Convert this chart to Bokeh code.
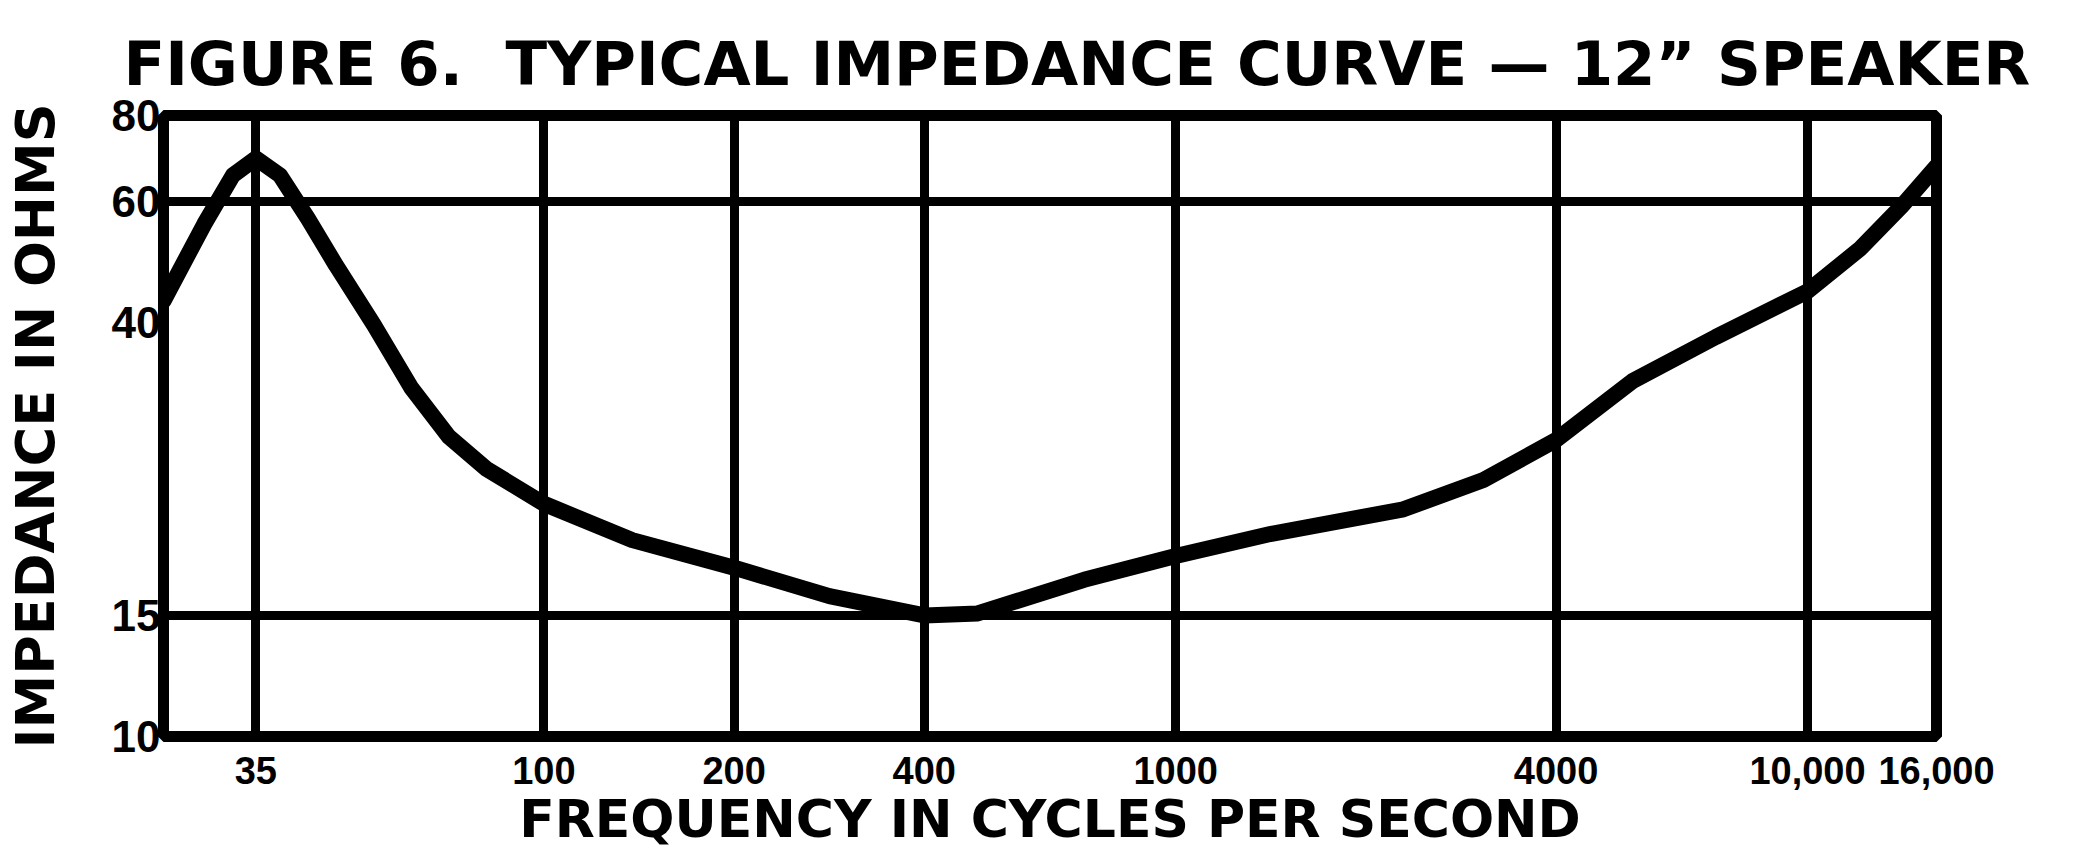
from bokeh.plotting import figure
from bokeh.models import FixedTicker, Range1d
from bokeh.embed import file_html
from bokeh.resources import INLINE

# ---- data ----
freq_hz = [25, 29, 32.2, 35, 38.2, 42.3, 46.9, 53.8, 61.6, 70.7, 81.1, 100,
           138, 200, 283, 400, 486, 716, 1000, 1411, 2293, 3069, 4000,
           5291, 7159, 10000, 12137, 14079, 16000]
impedance_ohms = [43.0, 55.6, 65.5, 69.3, 65.5, 56.7, 48.4, 39.7, 32.2, 27.3, 24.5, 21.8,
                  19.3, 17.6, 16.0, 15.0, 15.1, 16.9, 18.3, 19.7, 21.4, 23.6, 27.0,
                  32.9, 38.1, 44.4, 51.3, 59.0, 67.5]

x_tick_values = [35, 100, 200, 400, 1000, 4000, 10000, 16000]
x_tick_labels = ["35", "100", "200", "400", "1000", "4000", "10,000", "16,000"]
x_grid_values = [35, 100, 200, 400, 1000, 4000, 10000]

y_tick_values = [10, 15, 40, 60, 80]
y_tick_labels = ["10", "15", "40", "60", "80"]
y_grid_values = [15, 60]

title_text = "FIGURE 6.\u00a0 TYPICAL IMPEDANCE CURVE \u2014 12\u201d SPEAKER"
x_label = "FREQUENCY IN CYCLES PER SECOND"
y_label = "IMPEDANCE IN OHMS"

FONT = "DejaVu Sans"
TICK_FONT = "Liberation Sans"

p = figure(width=2080, height=851,
           x_axis_type="log", y_axis_type="log",
           x_range=Range1d(25, 16000), y_range=Range1d(10, 80),
           output_backend="svg", toolbar_location=None,
           min_border_left=162, min_border_right=144,
           min_border_top=115, min_border_bottom=115)

p.background_fill_color = "white"
p.border_fill_color = "white"
p.outline_line_color = "black"
p.outline_line_width = 11
p.outline_line_alpha = 1.0

# title
p.title.text = title_text
p.title.align = "left"
p.title.offset = -40
p.title.text_font = FONT
p.title.text_font_size = "61px"
p.title.text_font_style = "bold"
p.title.text_color = "black"
p.title.standoff = 34

# grid
p.xgrid.ticker = FixedTicker(ticks=x_grid_values)
p.ygrid.ticker = FixedTicker(ticks=y_grid_values)
for g in (p.xgrid[0], p.ygrid[0]):
    g.grid_line_color = "black"
    g.grid_line_width = 9
    g.grid_line_alpha = 1.0

# axes
xa = p.xaxis[0]
ya = p.yaxis[0]
xa.ticker = FixedTicker(ticks=x_tick_values)
ya.ticker = FixedTicker(ticks=y_tick_values)
xa.major_label_overrides = dict(zip(x_tick_values, x_tick_labels))
ya.major_label_overrides = dict(zip(y_tick_values, y_tick_labels))
xa.axis_label = x_label
ya.axis_label = y_label
for ax in (xa, ya):
    ax.axis_line_color = None
    ax.major_tick_line_color = None
    ax.minor_tick_line_color = None
    ax.major_tick_out = 0
    ax.major_tick_in = 0
    ax.minor_tick_out = 0
    ax.minor_tick_in = 0
    ax.major_label_text_font = TICK_FONT
    ax.major_label_text_font_style = "bold"
    ax.major_label_text_color = "black"
    ax.major_label_text_line_height = 1.0
    ax.axis_label_text_font = FONT
    ax.axis_label_text_font_style = "bold"
    ax.axis_label_text_color = "black"
    ax.axis_label_text_line_height = 1.0

xa.major_label_text_font_size = "38px"
xa.major_label_standoff = 20
xa.axis_label_text_font_size = "52px"
xa.axis_label_standoff = 2

ya.major_label_text_font_size = "44px"
ya.major_label_standoff = 3
ya.axis_label_text_font_size = "54px"
ya.axis_label_standoff = 42

# impedance curve
p.line(freq_hz, impedance_ohms, line_width=16, line_color="black",
       line_join="round", line_cap="round")

open("out.html", "w").write(file_html(p, INLINE))
